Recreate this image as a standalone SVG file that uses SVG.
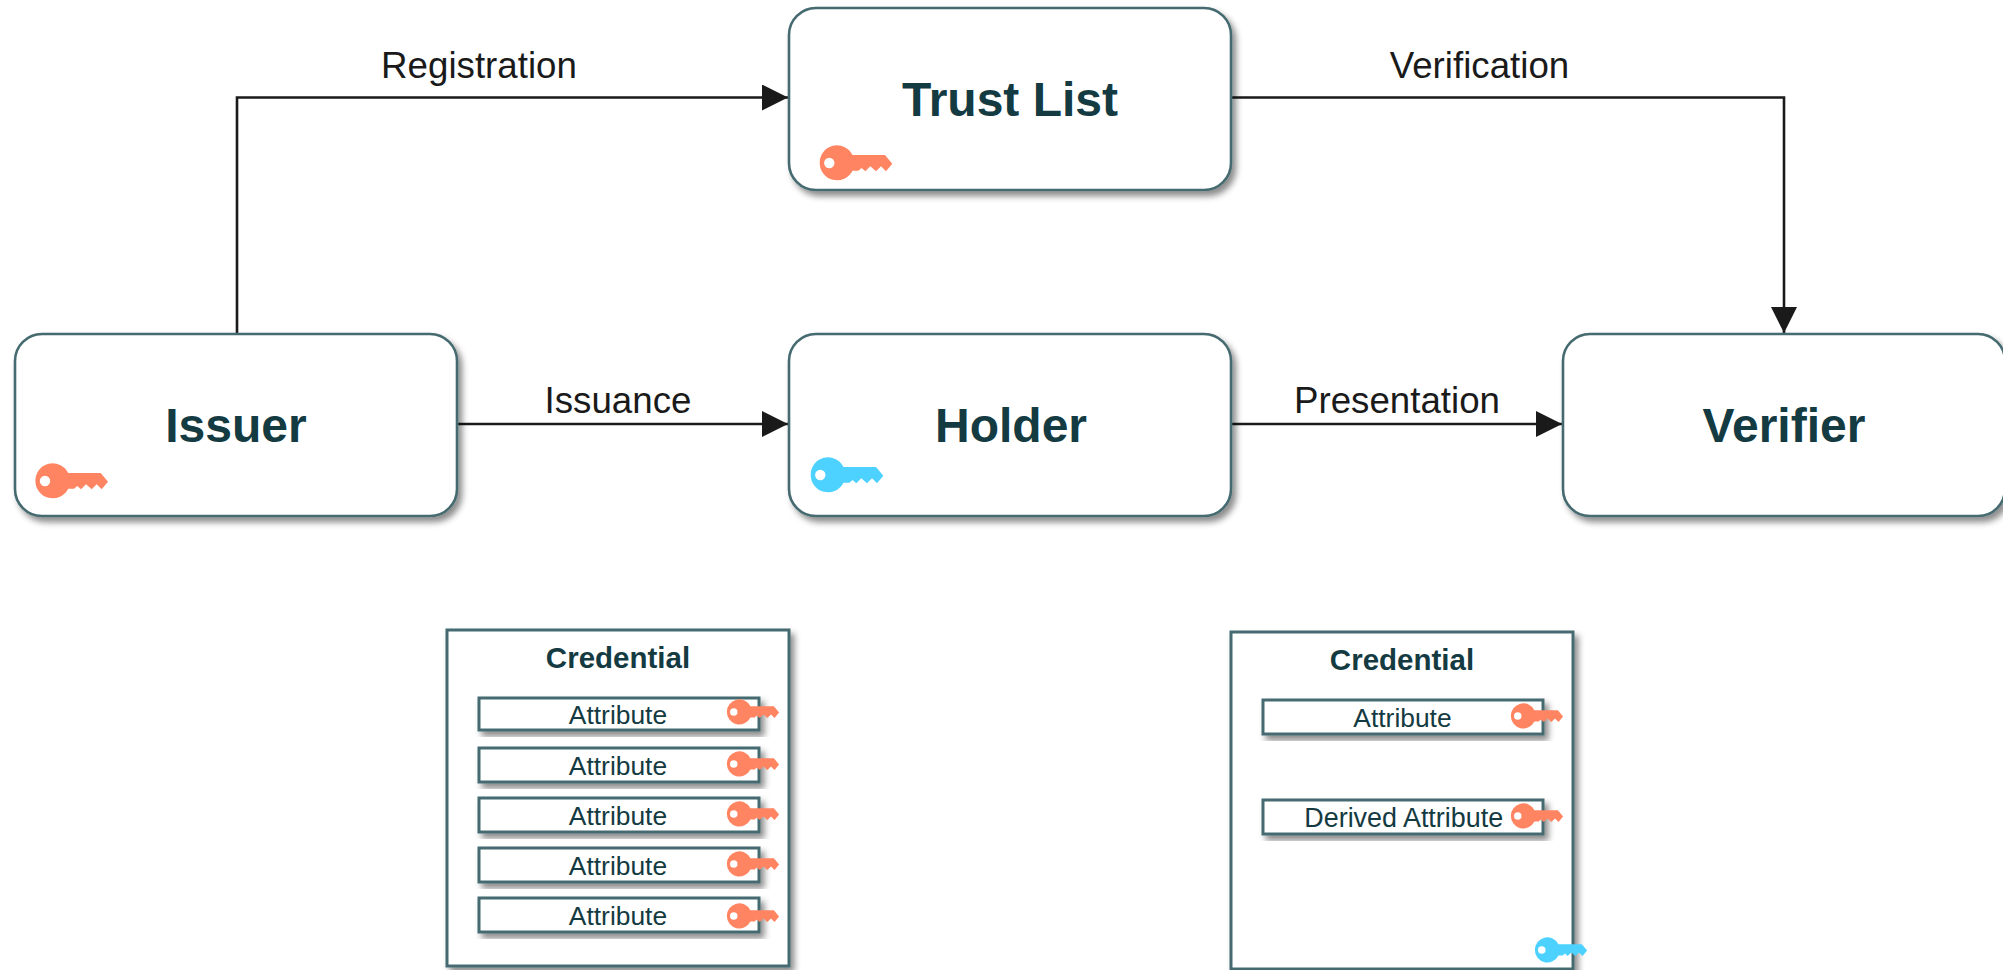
<svg xmlns="http://www.w3.org/2000/svg" width="2003" height="970" viewBox="0 0 2003 970">
<style>
.box{fill:#fff;stroke:#456a70;filter:url(#sh)}
.big{stroke-width:2.6}
.t{font-family:"Liberation Sans",Arial,sans-serif;fill:#143a42;text-anchor:middle}
.h{font-size:48px;font-weight:bold}
.c{font-size:29.500px;font-weight:bold}
.a{font-size:26.400px}
.l{font-family:"Liberation Sans",Arial,sans-serif;fill:#1a1a1a;font-size:36.700px;text-anchor:middle}
.conn{fill:none;stroke:#1a1a1a;stroke-width:2.6}
.o{fill:#ff8562}
.b{fill:#4dd2ff}
</style>
<defs>
<filter id="sh" x="-10%" y="-10%" width="125%" height="130%">
<feDropShadow dx="4" dy="5" stdDeviation="3.200" flood-color="#000" flood-opacity="0.45"/>
</filter>
<marker id="ah" markerUnits="userSpaceOnUse" markerWidth="27" markerHeight="28" refX="26" refY="13" orient="auto">
<path d="M0 0L26 13L0 26Z" fill="#1a1a1a"/>
</marker>
<path id="key" fill-rule="evenodd" d="M-17.3 0A17.3 17.3 0 0 1 15.5 -8H48L55.3 0.7L49 8.3L44 3.3L39 8.3L33.3 3.3L28.3 8.3L24.6 5L21.3 7.7H15.5A17.3 17.3 0 0 1 -17.3 0ZM-12.9 0a5.2 5.2 0 1 0 10.4 0a5.2 5.2 0 1 0 -10.4 0Z"/>
</defs>
<rect width="2003" height="970" fill="#fff"/>
<g id="connectors">
<path class="conn" d="M237 334V97.500H788" marker-end="url(#ah)"/>
<path class="conn" d="M1232 97.500H1784V333" marker-end="url(#ah)"/>
<path class="conn" d="M457 424H788" marker-end="url(#ah)"/>
<path class="conn" d="M1232 424H1562" marker-end="url(#ah)"/>
<text class="l" x="479" y="77.500">Registration</text>
<text class="l" x="1479.500" y="77.500">Verification</text>
<text class="l" x="618" y="413">Issuance</text>
<text class="l" x="1397" y="413">Presentation</text>
</g>
<g id="trust-list">
<rect class="box big" x="789" y="8" width="442" height="182" rx="27"/>
<text class="t h" x="1010" y="116">Trust List</text>
<use href="#key" class="o" x="837" y="163"/>
</g>
<g id="issuer">
<rect class="box big" x="15" y="334" width="442" height="182" rx="27"/>
<text class="t h" x="236" y="441.500">Issuer</text>
<use href="#key" class="o" x="52.700" y="481"/>
</g>
<g id="holder">
<rect class="box big" x="789" y="334" width="442" height="182" rx="27"/>
<text class="t h" x="1011" y="441.500">Holder</text>
<use href="#key" class="b" x="828" y="475"/>
</g>
<g id="verifier">
<rect class="box big" x="1563" y="334" width="442" height="182" rx="27"/>
<text class="t h" x="1784" y="441.500">Verifier</text>
</g>
<g id="credential-1">
<rect class="box" stroke-width="3" x="447" y="630" width="342" height="336"/>
<text class="t c" x="618" y="668">Credential</text>
<rect class="box" stroke-width="3" x="479" y="698" width="280" height="32"/>
<text class="t a" x="618" y="724">Attribute</text>
<use href="#key" class="o" transform="translate(739.300 712) scale(.72)"/>
<rect class="box" stroke-width="3" x="479" y="748" width="280" height="34"/>
<text class="t a" x="618" y="774.500">Attribute</text>
<use href="#key" class="o" transform="translate(739.300 764) scale(.72)"/>
<rect class="box" stroke-width="3" x="479" y="798" width="280" height="34"/>
<text class="t a" x="618" y="824.500">Attribute</text>
<use href="#key" class="o" transform="translate(739.300 814) scale(.72)"/>
<rect class="box" stroke-width="3" x="479" y="848" width="280" height="34"/>
<text class="t a" x="618" y="875">Attribute</text>
<use href="#key" class="o" transform="translate(739.300 864) scale(.72)"/>
<rect class="box" stroke-width="3" x="479" y="898" width="280" height="34"/>
<text class="t a" x="618" y="925">Attribute</text>
<use href="#key" class="o" transform="translate(739.300 916) scale(.72)"/>
</g>
<g id="credential-2">
<rect class="box" stroke-width="3" x="1231" y="632" width="342" height="337"/>
<text class="t c" x="1402" y="670">Credential</text>
<rect class="box" stroke-width="3" x="1263" y="700" width="280" height="34"/>
<text class="t a" x="1402.500" y="726.500">Attribute</text>
<use href="#key" class="o" transform="translate(1523.300 716) scale(.72)"/>
<rect class="box" stroke-width="3" x="1263" y="800" width="280" height="34"/>
<text class="t a" style="font-size:26.900px" x="1403.700" y="827">Derived Attribute</text>
<use href="#key" class="o" transform="translate(1523.300 816) scale(.72)"/>
<use href="#key" class="b" transform="translate(1547.300 950) scale(.72)"/>
</g>
</svg>
